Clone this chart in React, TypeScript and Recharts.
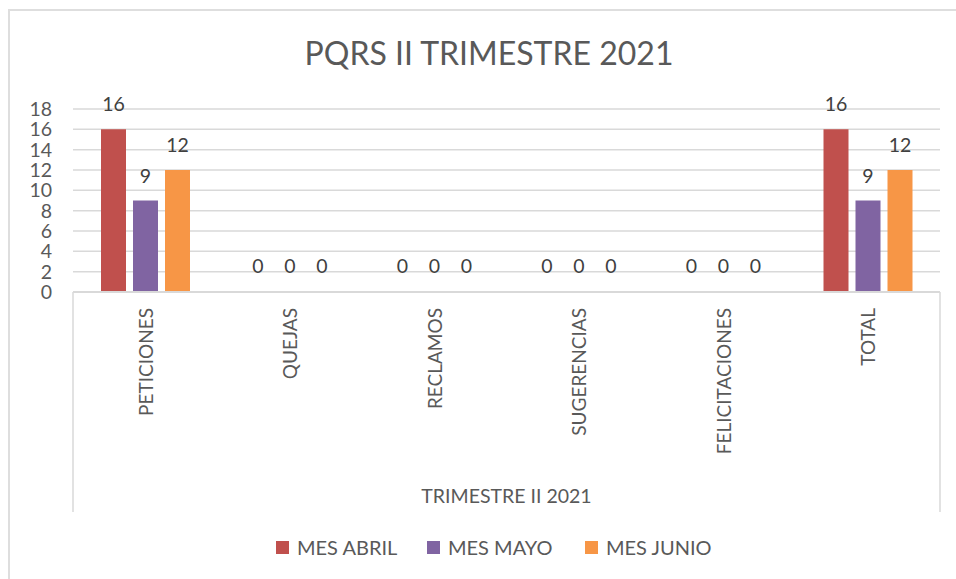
import React from 'react';
import { BarChart, Bar, XAxis, YAxis, CartesianGrid, LabelList } from 'recharts';

const categories = ['PETICIONES', 'QUEJAS', 'RECLAMOS', 'SUGERENCIAS', 'FELICITACIONES', 'TOTAL'];
const mesAbril = [16, 0, 0, 0, 0, 16];
const mesMayo = [9, 0, 0, 0, 0, 9];
const mesJunio = [12, 0, 0, 0, 0, 12];
const yTicks = [0, 2, 4, 6, 8, 10, 12, 14, 16, 18];
const seriesNames = ['MES ABRIL', 'MES MAYO', 'MES JUNIO'];
const title = 'PQRS II TRIMESTRE 2021';
const axisTitle = 'TRIMESTRE II 2021';

const colors = ['#C0504D', '#8064A2', '#F79646'];
const FONT = 'Lato, "Open Sans", sans-serif';
const TEXT = '#595959';

const data = categories.map((c, i) => ({
  name: c,
  abril: mesAbril[i],
  mayo: mesMayo[i],
  junio: mesJunio[i],
}));

const CatTick = (props: any) => {
  const { x, y, payload } = props;
  return (
    <text
      x={x}
      y={y}
      transform={`rotate(-90 ${x} ${y})`}
      textAnchor="end"
      dominantBaseline="central"
      fill={TEXT}
      fontSize={19}
      fontFamily={FONT}
    >
      {payload.value}
    </text>
  );
};

const AxisBox = (props: any) => {
  const vb = props.viewBox || {};
  const x0 = vb.x;
  const x1 = vb.x + vb.width;
  const top = vb.y;
  return (
    <g>
      <line x1={x0} y1={top} x2={x0} y2={top + 220} stroke="#d9d9d9" strokeWidth={1.5} />
      <line x1={x1} y1={top} x2={x1} y2={top + 220} stroke="#d9d9d9" strokeWidth={1.5} />
      <text
        x={(x0 + x1) / 2}
        y={top + 203}
        textAnchor="middle"
        dominantBaseline="central"
        fill={TEXT}
        fontSize={19.5}
        fontFamily={FONT}
      >
        {axisTitle}
      </text>
    </g>
  );
};

const ValueLabel = (props: any) => {
  const { x, y, width, value } = props;
  return (
    <text
      x={x + width / 2}
      y={Math.round(y) - 18}
      textAnchor="middle"
      fill="#404040"
      fontSize={19.5}
      fontFamily={FONT}
    >
      {value}
    </text>
  );
};

export default function App() {
  return (
    <div style={{ position: 'absolute', left: 0, top: 0, width: 956, height: 579, overflow: 'hidden', background: '#fff', fontFamily: FONT }}>
      <div style={{ position: 'absolute', left: 8, top: 9, width: 1000, height: 700, border: '2px solid #dedede', boxSizing: 'border-box' }} />
      <div style={{ position: 'absolute', left: 289, top: 33, width: 400, textAlign: 'center', fontSize: 32, color: TEXT, lineHeight: '40px' }}>
        {title}
      </div>
      <div style={{ position: 'absolute', left: 0, top: 0 }}>
        <BarChart
          width={956}
          height={579}
          data={data}
          margin={{ top: 109, right: 16, left: 0, bottom: 0 }}
          barSize={25}
          barGap={7}
        >
          <CartesianGrid vertical={false} stroke="#d9d9d9" strokeWidth={1.5} />
          {(['abril', 'mayo', 'junio'] as const).map((k, i) => (
            <Bar key={k} dataKey={k} name={seriesNames[i]} fill={colors[i]} minPointSize={1} isAnimationActive={false}>
              <LabelList dataKey={k} content={<ValueLabel />} />
            </Bar>
          ))}
          <XAxis
            dataKey="name"
            height={287}
            interval={0}
            tickLine={false}
            tickMargin={10}
            axisLine={{ stroke: '#d9d9d9', strokeWidth: 2 }}
            tick={<CatTick />}
            label={<AxisBox />}
          />
          <YAxis
            width={73}
            domain={[0, 18]}
            ticks={yTicks}
            interval={0}
            axisLine={false}
            tickLine={false}
            tickMargin={15}
            tick={{ fill: TEXT, fontSize: 19.5, fontFamily: FONT }}
          />
        </BarChart>
      </div>
      <div style={{ position: 'absolute', left: 0, top: 535, width: 956 }}>
        {seriesNames.map((n, i) => (
          <div key={n} style={{ position: 'absolute', left: [276, 427, 585][i], top: 0, display: 'flex', alignItems: 'center', height: 24 }}>
            <div style={{ width: 13, height: 13, background: colors[i], marginRight: 8 }} />
            <span style={{ fontSize: 20, color: TEXT, whiteSpace: 'nowrap' }}>{n}</span>
          </div>
        ))}
      </div>
    </div>
  );
}
